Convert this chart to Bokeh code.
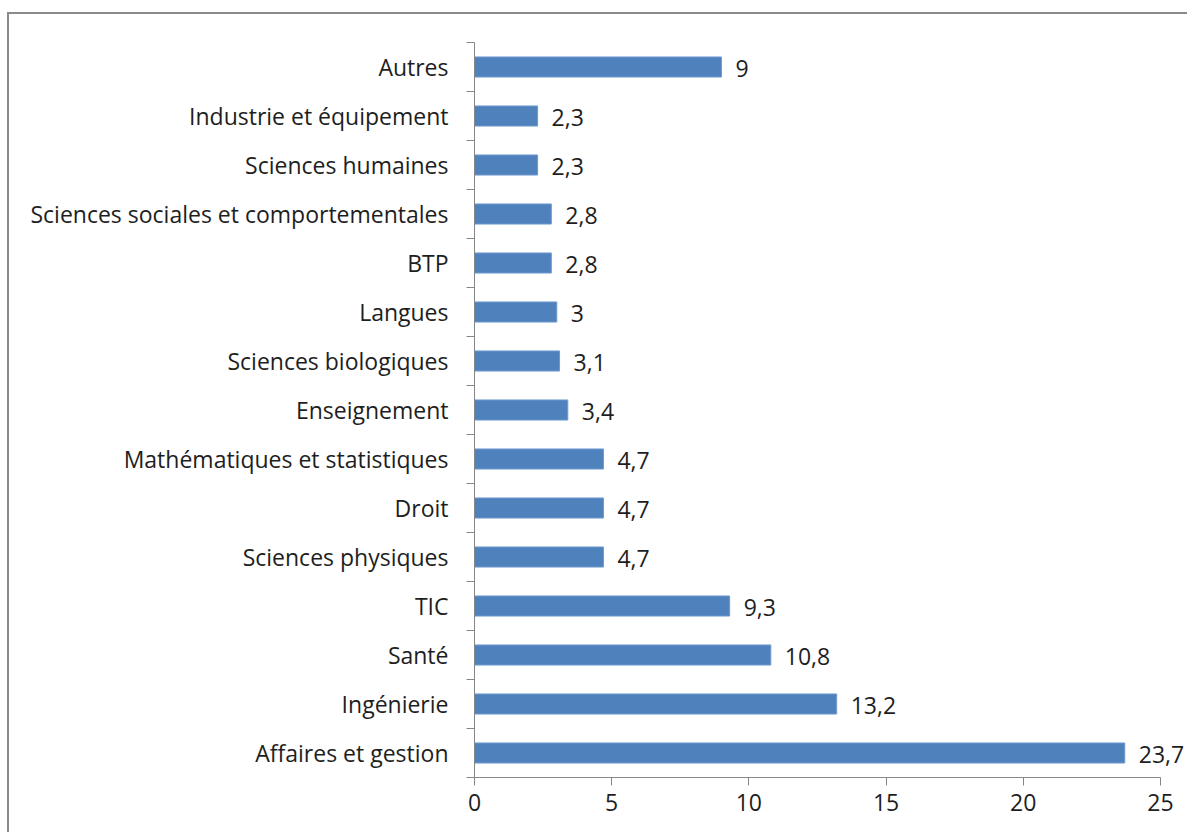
from bokeh.plotting import figure
from bokeh.models import ColumnDataSource, Range1d, FixedTicker, LabelSet
from bokeh.core.properties import value
from bokeh.embed import file_html
from bokeh.resources import INLINE

# Data (bottom to top)
categories = ["Affaires et gestion", "Ingénierie", "Santé", "TIC",
              "Sciences physiques", "Droit", "Mathématiques et statistiques",
              "Enseignement", "Sciences biologiques", "Langues", "BTP",
              "Sciences sociales et comportementales", "Sciences humaines",
              "Industrie et équipement", "Autres"]
values = [23.7, 13.2, 10.8, 9.3, 4.7, 4.7, 4.7, 3.4, 3.1, 3.0, 2.8, 2.8, 2.3, 2.3, 9]
x_ticks = [0, 5, 10, 15, 20, 25]

FONT = "Open Sans"
FS = "23px"
TXT = "#1e1e1e"
n = len(categories)
pos = [i + 0.5 for i in range(n)]
labels = [("%g" % v).replace(".", ",") for v in values]

src = ColumnDataSource(dict(y=pos, v=values, lab=labels, cat=categories))

W, H = 1180, 820
OX, OY = 9, 14  # canvas origin on page (after margin + border)
p = figure(width=W, height=H, output_backend="svg", toolbar_location=None,
           x_range=Range1d(0, 26.06), y_range=Range1d(0, n),
           min_border_left=474 - OX, min_border_right=0,
           min_border_top=42 - OY, min_border_bottom=H - (777 - OY))
p.styles = {"margin-left": "7px", "margin-top": "12px",
            "border-left": "2px solid #8a8a8a",
            "border-top": "2px solid #8a8a8a"}
p.outline_line_color = None
p.grid.visible = False
p.background_fill_color = "white"
p.border_fill_color = "white"

p.hbar(y="y", right="v", left=0, height=0.41, source=src,
       fill_color="#4F81BD", line_color="#6F9AD0", line_width=1)

ls = LabelSet(x="v", y="y", text="lab", source=src, x_offset=14, y_offset=-1,
              text_font=value(FONT), text_font_size=FS,
              text_baseline="middle", text_align="left", text_color=TXT)
p.add_layout(ls)

# y axis
ya = p.yaxis[0]
ya.ticker = FixedTicker(ticks=pos, minor_ticks=list(range(n + 1)))
ya.major_label_overrides = {pv: c for pv, c in zip(pos, categories)}
ya.major_tick_out = 0
ya.major_tick_in = 0
ya.minor_tick_out = 8
ya.minor_tick_in = 0
ya.minor_tick_line_color = "#868686"
ya.axis_line_color = "#868686"
ya.major_label_standoff = 18
ya.major_label_text_font = FONT
ya.major_label_text_font_size = FS
ya.major_label_text_color = TXT

# x axis
xa = p.xaxis[0]
xa.ticker = FixedTicker(ticks=x_ticks)
xa.bounds = (0, 25)
xa.major_tick_out = 8
xa.major_tick_in = 0
xa.minor_tick_out = 0
xa.minor_tick_in = 0
xa.major_tick_line_color = "#868686"
xa.axis_line_color = "#868686"
xa.major_label_standoff = 8
xa.major_label_text_font = FONT
xa.major_label_text_font_size = FS
xa.major_label_text_color = TXT

open("out.html", "w").write(file_html(p, INLINE))
